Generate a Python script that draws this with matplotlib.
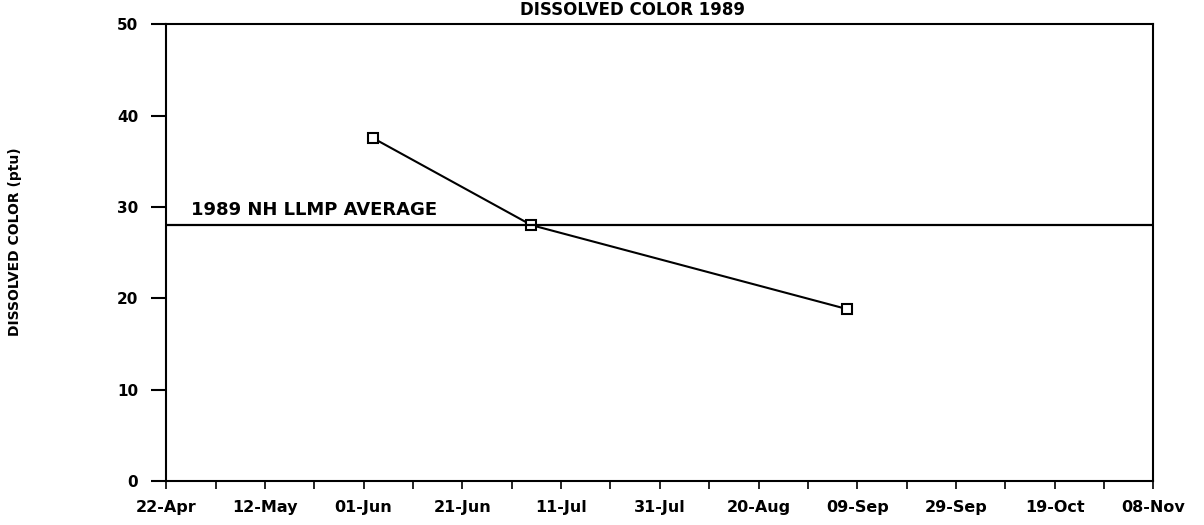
"""
dissolved color 1989 chart
"""
import pandas as pd
import numpy as np
import matplotlib.pyplot as plt
import matplotlib.dates as mdates

# sample dates and values
sample_dates = ['1989-06-03', '1989-07-05', '1989-09-07']
color_ptu = [37.5, 28.0, 18.8]

# state average line
avg_value = 28.0
avg_label = '1989 NH LLMP AVERAGE'

x_start = '1989-04-22'
x_end = '1989-11-08'
y_ticks = [0, 10, 20, 30, 40, 50]

plt.rcParams['font.family'] = ['DejaVu Sans']
plt.rcParams['font.weight'] = 'bold'

fig = plt.figure(figsize=(12.04, 5.25), dpi=100)
ax = fig.add_axes([0.138, 0.084, 0.82, 0.87])

dates = pd.to_datetime(sample_dates)
ax.plot(dates, color_ptu, color='black', lw=1.5, marker='s', markersize=7,
        markerfacecolor='white', markeredgecolor='black', markeredgewidth=1.5)

# average line over the full range
ax.axhline(avg_value, color='black', lw=1.6)
ax.text(pd.Timestamp('1989-04-27'), avg_value + 0.7, avg_label,
        fontsize=13, fontweight='bold', va='bottom', ha='left')

ax.set_xlim(pd.Timestamp(x_start), pd.Timestamp(x_end))
ax.set_ylim(0, 50)

major = pd.date_range(x_start, x_end, freq='20D')
minor = pd.date_range(x_start, x_end, freq='10D')
ax.set_xticks(major)
ax.set_xticks(minor, minor=True)
ax.xaxis.set_major_formatter(mdates.DateFormatter('%d-%b'))
ax.set_yticks(y_ticks)

ax.tick_params(axis='x', which='both', direction='out', length=6, width=1.2,
               pad=8, labelsize=11.5)
ax.tick_params(axis='y', direction='out', length=11, width=1.5, pad=9,
               labelsize=11)
for lab in ax.get_xticklabels() + ax.get_yticklabels():
    lab.set_fontweight('bold')

for s in ax.spines.values():
    s.set_linewidth(1.5)

fig.text(0.525, 0.998, 'DISSOLVED COLOR 1989', ha='center', va='top',
         fontsize=12, fontweight='bold')
fig.text(0.0125, 0.54, 'DISSOLVED COLOR (ptu)', rotation=90, ha='center',
         va='center', fontsize=10, fontweight='bold')

plt.savefig('out.png', dpi=100)
